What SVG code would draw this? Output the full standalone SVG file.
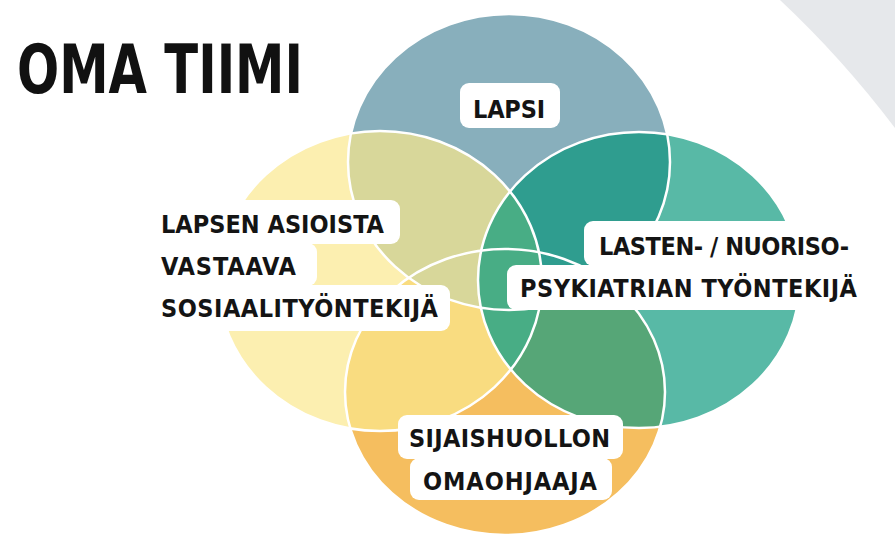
<svg xmlns="http://www.w3.org/2000/svg" width="895" height="541" viewBox="0 0 895 541">
<style>
.lbl{font-family:"Liberation Sans Narrow","DejaVu Sans Condensed","Liberation Sans",Arial,sans-serif;font-weight:bold;font-size:25px;fill:#141414}
.title{font-family:"Liberation Sans Narrow","DejaVu Sans Condensed","Liberation Sans",Arial,sans-serif;font-weight:bold;font-size:67px;fill:#111}
.box{fill:#ffffff}
.edge{fill:none;stroke:#ffffff;stroke-width:2.5}
</style>
<defs>
<ellipse id="eB" cx="509" cy="162" rx="161" ry="148"/>
<ellipse id="eY" cx="380" cy="281" rx="162" ry="150"/>
<ellipse id="eT" cx="639" cy="280" rx="161" ry="148"/>
<ellipse id="eO" cx="505" cy="392" rx="160" ry="143"/>
<clipPath id="cB"><ellipse cx="509" cy="162" rx="161" ry="148"/></clipPath>
<clipPath id="cT"><ellipse cx="639" cy="280" rx="161" ry="148"/></clipPath>
<clipPath id="cO"><ellipse cx="505" cy="392" rx="160" ry="143"/></clipPath>
</defs>
<rect width="895" height="541" fill="#ffffff"/>
<path d="M780,0 Q842,58 895,128 L895,0 Z" fill="#e6e8eb"/>
<text class="title" x="17" y="93" textLength="286" lengthAdjust="spacingAndGlyphs">OMA TIIMI</text>
<g id="venn">
<use href="#eB" fill="#88afbc"/>
<use href="#eY" fill="#fcefb0"/>
<use href="#eT" fill="#58b9a6"/>
<use href="#eO" fill="#f5be5f"/>
<use href="#eY" clip-path="url(#cO)" fill="#f9dc80"/>
<use href="#eT" clip-path="url(#cO)" fill="#56a677"/>
<use href="#eY" clip-path="url(#cB)" fill="#d8d79a"/>
<use href="#eT" clip-path="url(#cB)" fill="#2f9d8f"/>
<use href="#eY" clip-path="url(#cT)" fill="#48ad85"/>
<use href="#eB" class="edge"/>
<use href="#eY" class="edge"/>
<use href="#eT" class="edge"/>
<use href="#eO" class="edge"/>
</g>
<g id="lapsi">
<rect class="box" x="460" y="83" width="100" height="45" rx="9"/>
<text class="lbl" x="473" y="118" textLength="72" lengthAdjust="spacing">LAPSI</text>
</g>
<g id="sosiaalityontekija">
<rect class="box" x="148" y="200" width="252" height="44" rx="9"/>
<rect class="box" x="148" y="243" width="169" height="43" rx="9"/>
<rect class="box" x="148" y="285" width="302" height="46" rx="9"/>
<text class="lbl" x="161" y="233" textLength="223" lengthAdjust="spacing">LAPSEN ASIOISTA</text>
<text class="lbl" x="161" y="275" textLength="135" lengthAdjust="spacing">VASTAAVA</text>
<text class="lbl" x="161" y="317" textLength="277" lengthAdjust="spacing">SOSIAALITYÖNTEKIJÄ</text>
</g>
<g id="psykiatria">
<rect class="box" x="584" y="221" width="278" height="45" rx="9"/>
<rect class="box" x="507" y="265" width="361" height="45" rx="9"/>
<text class="lbl" x="599" y="255" textLength="250" lengthAdjust="spacing">LASTEN- / NUORISO-</text>
<text class="lbl" x="520" y="297" textLength="337" lengthAdjust="spacing">PSYKIATRIAN TYÖNTEKIJÄ</text>
</g>
<g id="omaohjaaja">
<rect class="box" x="398" y="415" width="225" height="44" rx="9"/>
<rect class="box" x="410" y="458" width="202" height="42" rx="9"/>
<text class="lbl" x="409" y="447" textLength="201" lengthAdjust="spacing">SIJAISHUOLLON</text>
<text class="lbl" x="423" y="490" textLength="174" lengthAdjust="spacing">OMAOHJAAJA</text>
</g>
</svg>
